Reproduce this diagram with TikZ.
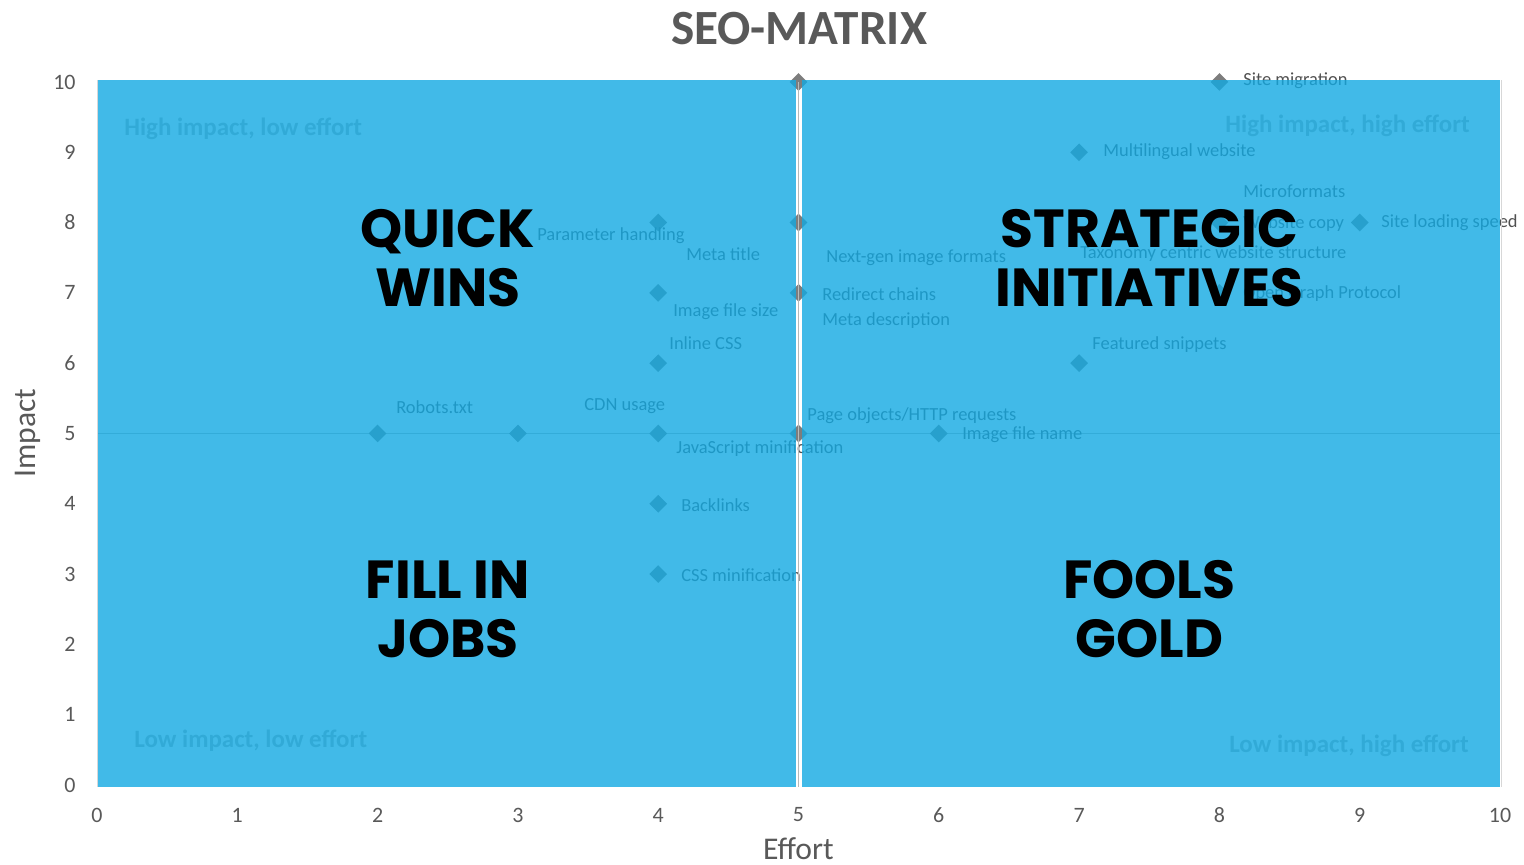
\documentclass[tikz,border=0pt]{standalone}
\usepackage{fontspec}
\setmainfont{Carlito}
\newfontfamily\bigfont{Poppins}
\usetikzlibrary{shapes.geometric,positioning}
\definecolor{seoblue}{RGB}{18,169,226}
\definecolor{txtgray}{RGB}{89,89,89}
\definecolor{lblgray}{RGB}{80,80,80}
\definecolor{markgray}{RGB}{125,125,125}
\definecolor{quadgray}{RGB}{175,175,175}
\definecolor{axisgray}{RGB}{185,185,185}
\definecolor{edgegray}{RGB}{215,215,215}

\begin{document}
\begin{tikzpicture}[x=2.806cm,y=1.406cm,
  point/.style = {diamond, fill = markgray, inner sep = 0pt, minimum width = 0.36cm, minimum height = 0.36cm},
  lbl/.style = {anchor = west, inner sep = 0pt, text = lblgray, font = \fontsize{10.5}{12}\selectfont},
  quad/.style = {anchor = west, inner sep = 0pt, text = quadgray, font = \fontsize{14.2}{16}\selectfont\bfseries},
  big/.style = {align = center, inner sep = 0pt, font = \bigfont\bfseries\fontsize{30.5}{33.6}\selectfont},
  tick/.style = {inner sep = 0pt, text = txtgray, font = \fontsize{12.5}{14}\selectfont},]
\useasboundingbox (-0.6914,-1.138) rectangle (10.171,11.166);
% chart underneath the blue
\node (HL) at (0.192,9.331)[quad] {High impact, low effort};
\node (HH) at (8.040,9.374)[quad] {High impact, high effort};
\node (LL) at (0.264,0.626)[quad] {Low impact, low effort};
\node (LH) at (8.068,0.555)[quad] {Low impact, high effort};
\draw[axisgray,line width=0.9pt] (0,5)--(10,5);
\node (A) at (8,10)[point] {};
\node (B) at (7,9)[point] {};
\node (C) at (8,8)[point] {};
\node (D) at (9,8)[point] {};
\node (E) at (8,7)[point] {};
\node (F) at (7,6)[point] {};
\node (G) at (6,5)[point] {};
\node (H) at (5,10)[point] {};
\node (I) at (5,8)[point] {};
\node (J) at (5,7)[point] {};
\node (K) at (5,5)[point] {};
\node (L) at (4,8)[point] {};
\node (M) at (4,7)[point] {};
\node (N) at (4,6)[point] {};
\node (O) at (4,5)[point] {};
\node (P) at (3,5)[point] {};
\node (Q) at (2,5)[point] {};
\node (R) at (4,4)[point] {};
\node (S) at (4,3)[point] {};
\node (siteMig) at (8.168,10.014)[lbl] {Site migration};
\node (multiLing) at (7.170,9.004)[lbl] {Multilingual website};
\node (microF) at (8.168,8.449)[lbl] {Microformats};
\node (webCopy) at (8.168,7.980)[lbl] {Website copy};
\node (siteSpeed) at (9.152,7.994)[lbl] {Site loading speed};
\node (taxo) at (7.006,7.553)[lbl] {Taxonomy centric website structure};
\node (openGraph) at (8.168,6.984)[lbl] {Open Graph Protocol};
\node (featSnip) at (7.092,6.259)[lbl] {Featured snippets};
\node (imgName) at (6.165,4.979)[lbl] {Image file name};
\node (pageObj) at (5.061,5.249)[lbl] {Page objects/HTTP requests};
\node (nextGen) at (5.196,7.496)[lbl] {Next-gen image formats};
\node (redirect) at (5.167,6.984)[lbl] {Redirect chains};
\node (metaDesc) at (5.167,6.600)[lbl] {Meta description};
\node (param) at (3.136,7.809)[lbl] {Parameter handling};
\node (metaTitle) at (4.198,7.553)[lbl] {Meta title};
\node (imgSize) at (4.105,6.728)[lbl] {Image file size};
\node (inlineCSS) at (4.077,6.287)[lbl] {Inline CSS};
\node (robots) at (2.131,5.377)[lbl] {Robots.txt};
\node (cdn) at (3.471,5.391)[lbl] {CDN usage};
\node (jsMin) at (4.127,4.779)[lbl] {JavaScript minification};
\node (backlinks) at (4.162,3.983)[lbl] {Backlinks};
\node (cssMin) at (4.162,2.987)[lbl] {CSS minification};
% blue cover, two halves
\fill[seoblue,opacity=0.8] (0,-0.028) rectangle (4.982,10.028);
\fill[seoblue,opacity=0.8] (5.025,-0.028) rectangle (10,10.028);
\draw[axisgray,line width=1.1pt] (5,-0.028)--(H.center);
\draw[edgegray,line width=0.5pt] (0,-0.028)--(0,10.028);
\draw[edgegray,line width=0.5pt] (10.01,-0.028)--(10.01,10.028);
% quadrant names
\node (quick) at (2.5,7.5)[big] {QUICK\\WINS};
\node (strat) at (7.5,7.5)[big] {STRATEGIC\\INITIATIVES};
\node (fill) at (2.5,2.5)[big] {FILL IN\\JOBS};
\node (fools) at (7.5,2.5)[big] {FOOLS\\GOLD};
% title and axes
\node (title) at (5.004,10.754)[text=txtgray,font=\fontsize{28}{30}\selectfont\bfseries] {SEO-MATRIX};
\node (effort) at (5,-0.9)[inner sep=0pt,text=txtgray,font=\fontsize{18}{20}\selectfont] {Effort};
\node (impact) at (-0.492,5.007)[rotate=90,inner sep=0pt,text=txtgray,font=\fontsize{18}{20}\selectfont] {Impact};
\node (x0) at (0,-0.427)[tick] {0};
\node (x1) at (1,-0.427)[tick] {1};
\node (x2) at (2,-0.427)[tick] {2};
\node (x3) at (3,-0.427)[tick] {3};
\node (x4) at (4,-0.427)[tick] {4};
\node (x5) at (5,-0.427)[tick] {5};
\node (x6) at (6,-0.427)[tick] {6};
\node (x7) at (7,-0.427)[tick] {7};
\node (x8) at (8,-0.427)[tick] {8};
\node (x9) at (9,-0.427)[tick] {9};
\node (x10) at (10,-0.427)[tick] {10};
\node (y0) at (-0.15,0)[tick,anchor=east] {0};
\node (y1) at (-0.15,1)[tick,anchor=east] {1};
\node (y2) at (-0.15,2)[tick,anchor=east] {2};
\node (y3) at (-0.15,3)[tick,anchor=east] {3};
\node (y4) at (-0.15,4)[tick,anchor=east] {4};
\node (y5) at (-0.15,5)[tick,anchor=east] {5};
\node (y6) at (-0.15,6)[tick,anchor=east] {6};
\node (y7) at (-0.15,7)[tick,anchor=east] {7};
\node (y8) at (-0.15,8)[tick,anchor=east] {8};
\node (y9) at (-0.15,9)[tick,anchor=east] {9};
\node (y10) at (-0.15,10)[tick,anchor=east] {10};
\end{tikzpicture}
\end{document}
